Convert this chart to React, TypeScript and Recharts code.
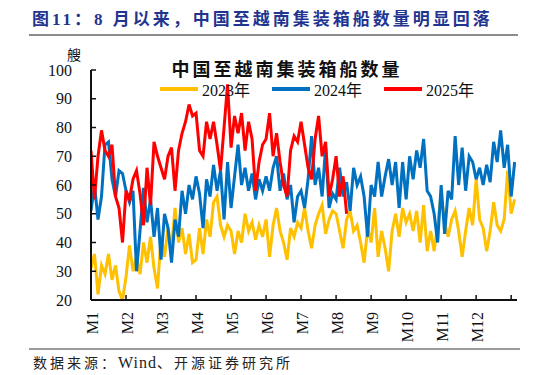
import { Line, LineChart, XAxis, YAxis } from "recharts";

// 3-day samples, M1 .. M12 (10 per month, 12 in the last)
const v2023 = [
  31, 36, 22, 32, 29, 36, 27, 32, 23, 20,
  28, 39, 30, 35, 29, 40, 33, 42, 31, 24,
  42, 35, 45, 38, 52, 40, 45, 36, 43, 33,
  34, 45, 36, 48, 42, 54, 56, 46, 42, 46,
  44, 36, 44, 40, 50, 44, 47, 41, 46, 42,
  48, 35, 46, 52, 44, 40, 34, 45, 42, 47,
  45, 52, 44, 38, 46, 50, 53, 43, 48, 51,
  50, 44, 38, 48, 51, 44, 46, 40, 33, 45,
  40, 52, 35, 44, 38, 30, 44, 50, 42, 52,
  47, 50, 44, 51, 40, 53, 37, 44, 37, 46,
  57, 47, 42, 48, 51, 44, 35, 44, 52, 46,
  62, 48, 45, 37, 44, 54, 46, 44, 48, 65, 50, 55,
];

const v2024 = [
  51, 60, 48, 56, 74, 75, 62, 56, 65, 64,
  58, 54, 58, 30, 44, 59, 47, 55, 42, 52,
  34, 50, 45, 33, 48, 42, 58, 50, 60, 55,
  63, 57, 45, 62, 56, 67, 58, 65, 48, 68,
  52, 63, 74, 60, 66, 58, 64, 55, 62, 58,
  63, 58, 66, 70, 58, 64, 55, 60, 47, 56,
  58, 52, 62, 77, 60, 66, 56, 73, 52, 57,
  55, 66, 56, 61, 51, 66, 60, 63, 56, 42,
  60, 56, 68, 56, 63, 69, 60, 68, 52, 68,
  55, 70, 62, 72, 66, 76, 58, 56, 50, 40,
  60, 43, 58, 55, 77, 60, 73, 58, 70, 68,
  62, 66, 60, 67, 61, 75, 68, 79, 66, 74, 56, 68,
];

const v2025 = [
  72, 55, 70, 79, 72, 70, 74, 56, 52, 40,
  58, 55, 62, 65, 57, 46, 66, 53, 75, 70,
  66, 62, 70, 73, 58, 72, 78, 82, 88, 84,
  85, 72, 70, 82, 76, 82, 74, 65, 80, 95,
  73, 84, 78, 85, 72, 82, 76, 58, 68, 74,
  76, 85, 70, 78, 68, 60, 56, 72, 77, 75,
  82, 74, 66, 62, 76, 84, 70, 75, 56, 62,
  70, 56, 63, 50,
];

const STEP = 3;
const monthTicks = [0, 30, 60, 90, 120, 150, 180, 210, 240, 270, 300, 330, 360];
const monthLabels = ["M1", "M2", "M3", "M4", "M5", "M6", "M7", "M8", "M9", "M10", "M11", "M12", ""];
const yTicks = [20, 30, 40, 50, 60, 70, 80, 90, 100];

const series = [
  { key: "y2023", name: "2023年", color: "#FFC000" },
  { key: "y2024", name: "2024年", color: "#0070C0" },
  { key: "y2025", name: "2025年", color: "#FF0000" },
];

const data = v2023.map((v, i) => ({
  day: i * STEP,
  y2023: v,
  y2024: v2024[i],
  y2025: i < v2025.length ? v2025[i] : null,
}));

const SERIF = '"Liberation Serif", "Times New Roman", "Noto Sans CJK SC", serif';

const W = 546;
const H = 375;
const MARGIN = { top: 70, right: 29, left: 0, bottom: 0 };
const Y_AXIS_W = 91;
const X_AXIS_H = 75;
const AXIS_X = MARGIN.left + Y_AXIS_W;
const AXIS_Y = H - MARGIN.bottom - X_AXIS_H;

// ticks point inward, labels sit outside
function MonthTick({ payload }: any) {
  const x = payload.coordinate;
  const label = monthLabels[monthTicks.indexOf(payload.value)] ?? "";
  return (
    <g>
      <line x1={x} x2={x} y1={AXIS_Y} y2={AXIS_Y - 5} stroke="#111" strokeWidth={1.5} />
      <text
        x={0}
        y={0}
        transform={`translate(${x + 1},${AXIS_Y + 12}) rotate(-90)`}
        textAnchor="end"
        dominantBaseline="central"
        fontSize={16}
        fontFamily={SERIF}
        fill="#111"
      >
        {label}
      </text>
    </g>
  );
}

function ValueTick({ payload }: any) {
  const y = payload.coordinate;
  return (
    <g>
      <line x1={AXIS_X} x2={AXIS_X + 5} y1={y} y2={y} stroke="#111" strokeWidth={1.5} />
      <text
        x={AXIS_X - 19}
        y={y}
        textAnchor="end"
        dominantBaseline="central"
        fontSize={16}
        fontFamily={SERIF}
        fill="#111"
      >
        {payload.value}
      </text>
    </g>
  );
}

export default function App() {
  return (
    <div
      style={{
        position: "absolute",
        left: 0,
        top: 0,
        width: W,
        height: H,
        background: "#fff",
        fontFamily: SERIF,
      }}
    >
      <div
        style={{
          position: "absolute",
          left: 32,
          top: 5,
          fontSize: 17,
          fontWeight: "bold",
          color: "#1F3590",
          letterSpacing: 3,
          whiteSpace: "nowrap",
        }}
      >
        图11：8 月以来，中国至越南集装箱船数量明显回落
      </div>
      <div style={{ position: "absolute", left: 29, top: 34, width: 489, height: 2, background: "#8c8c8c" }} />

      <LineChart width={W} height={H} data={data} margin={MARGIN}>
        <XAxis
          type="number"
          dataKey="day"
          domain={[0, 365]}
          ticks={monthTicks}
          interval={0}
          height={X_AXIS_H}
          tickSize={0}
          tickMargin={0}
          tickLine={false}
          axisLine={{ stroke: "#111", strokeWidth: 2 }}
          tick={<MonthTick />}
          allowDataOverflow
        />
        <YAxis
          domain={[20, 100]}
          ticks={yTicks}
          interval={0}
          width={Y_AXIS_W}
          tickSize={0}
          tickMargin={0}
          tickLine={false}
          axisLine={{ stroke: "#111", strokeWidth: 2 }}
          tick={<ValueTick />}
          allowDataOverflow
        />
        {series.map((s) => (
          <Line
            key={s.key}
            type="linear"
            dataKey={s.key}
            name={s.name}
            stroke={s.color}
            strokeWidth={3}
            dot={false}
            isAnimationActive={false}
          />
        ))}
      </LineChart>

      <div style={{ position: "absolute", left: 67, top: 44, fontSize: 14, color: "#111" }}>艘</div>

      <div
        style={{
          position: "absolute",
          left: 0,
          width: 574,
          top: 55,
          textAlign: "center",
          fontSize: 18,
          fontWeight: "bold",
          letterSpacing: 3,
          color: "#111",
          fontFamily: '"Noto Sans CJK SC", serif',
        }}
      >
        中国至越南集装箱船数量
      </div>

      <div style={{ position: "absolute", left: 160, top: 77, display: "flex", alignItems: "center" }}>
        {series.map((s) => (
          <div key={s.key} style={{ display: "flex", alignItems: "center", marginRight: 22 }}>
            <div style={{ width: 38, height: 4, background: s.color, marginRight: 4 }} />
            <span style={{ fontSize: 16, color: "#111", whiteSpace: "nowrap" }}>{s.name}</span>
          </div>
        ))}
      </div>

      <div style={{ position: "absolute", left: 29, top: 348, width: 491, height: 1.5, background: "#9a9a9a" }} />
      <div
        style={{
          position: "absolute",
          left: 33,
          top: 352,
          fontSize: 14,
          letterSpacing: 3,
          color: "#222",
          whiteSpace: "nowrap",
        }}
      >
        数据来源：<span style={{ fontSize: 16, letterSpacing: 1 }}>Wind</span>、开源证券研究所
      </div>
    </div>
  );
}
